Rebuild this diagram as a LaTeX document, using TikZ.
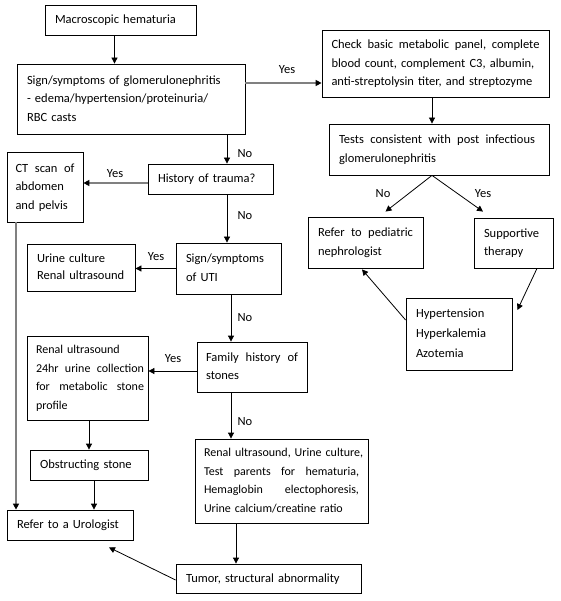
\documentclass[tikz,border=0pt]{standalone}
\usepackage{fontspec}
\setmainfont{Carlito}
\usetikzlibrary{arrows.meta,calc}
\newcommand\fs{\fontsize{12.5}{18.5}\selectfont}
\newcommand\fss{\fontsize{12}{18.5}\selectfont}
\newcommand\strline[2]{\hbox to #1{#2}}
\newcommand\lines[1]{\begin{tabular}{@{}l@{}}#1\end{tabular}}
\begin{document}
\begin{tikzpicture}[x=1pt,y=-1pt,
  box/.style={draw, line width=0.8pt, inner xsep=0pt, inner ysep=0pt, align=left, font=\fs},
  arr/.style={-{Triangle[length=6pt,width=6pt]}, line width=0.8pt},
  garr/.style={-{Triangle[length=6pt,width=6pt,color=black]}, draw=black!50, line width=1.8pt},
  lbl/.style={font=\fs, inner sep=0pt}]
\fill[white] (0,0) rectangle (560,601);
\useasboundingbox (0,0) rectangle (560,601);

\node[box, minimum width=151pt, minimum height=30pt, text width=131pt] (mac) at (120.5,20) {\lines{Macroscopic hematuria}};
\node[box, minimum width=228pt, minimum height=70pt, text width=208pt] (gn) at (131,99) {\lines{Sign/symptoms of glomerulonephritis\\- edema/hypertension/proteinuria/\\RBC casts}};
\node[box, minimum width=227pt, minimum height=67pt, text width=208pt] (chk) at (435.5,63.5) {\lines{\strline{208pt}{Check\hfill basic\hfill metabolic\hfill panel,\hfill complete}\\blood count, complement C3, albumin,\\anti-streptolysin titer, and streptozyme}};
\node[box, minimum width=220pt, minimum height=51pt, text width=200pt] (tst) at (439,149.5) {\lines{\strline{196pt}{Tests\hfill consistent\hfill with\hfill post\hfill infectious}\\glomerulonephritis}};
\node[box, minimum width=76pt, minimum height=70pt, text width=59pt] (ct) at (45,187) {\lines{\strline{59pt}{CT\hfill scan\hfill of}\\abdomen\\and pelvis}};
\node[box, minimum width=125pt, minimum height=30pt, text width=105pt] (tra) at (210.5,179) {\lines{History of trauma?}};
\node[box, minimum width=108pt, minimum height=47pt, text width=88pt] (uc) at (81,267.5) {\lines{Urine culture\\[-1.5pt]Renal ultrasound}};
\node[box, minimum width=105pt, minimum height=51pt, text width=85pt] (uti) at (228.5,268.5) {\lines{Sign/symptoms\\of UTI}};
\node[box, minimum width=110pt, minimum height=50pt, text width=92pt] (fam) at (252,367) {\lines{\strline{92pt}{Family\hfill history\hfill of}\\stones}};
\node[box, font=\fss, minimum width=121pt, minimum height=84pt, text width=103pt] (ru) at (87.5,378) {\lines{Renal ultrasound\\\strline{108pt}{24hr\hfill urine\hfill collection}\\\strline{108pt}{for\hfill metabolic\hfill stone}\\profile}};
\node[box, minimum width=118pt, minimum height=30pt, text width=98pt] (obs) at (89,465) {\lines{Obstructing stone}};
\node[box, minimum width=126pt, minimum height=30pt, text width=106pt] (uro) at (70,525) {\lines{Refer to a Urologist}};
\node[box, font=\fss, minimum width=173pt, minimum height=84pt, text width=155pt] (rus) at (281.5,481) {\lines{Renal ultrasound, Urine culture,\\\strline{155pt}{Test\hfill parents\hfill for\hfill hematuria,}\\\strline{155pt}{Hemaglobin\hfill electophoresis,}\\Urine calcium/creatine ratio}};
\node[box, minimum width=185pt, minimum height=29pt, text width=165pt] (tum) at (268.5,578.5) {\lines{Tumor, structural abnormality}};
\node[box, minimum width=115pt, minimum height=51pt, text width=95pt] (ped) at (365.5,242.5) {\lines{\strline{95pt}{Refer\hfill to\hfill pediatric}\\nephrologist}};
\node[box, minimum width=79pt, minimum height=50pt, text width=59pt] (sup) at (513.5,243) {\lines{Supportive\\therapy}};
\node[box, minimum width=106pt, minimum height=72pt, text width=86pt] (hyp) at (459,334) {\lines{Hypertension\\[1.5pt]Hyperkalemia\\[1.5pt]Azotemia}};

% connectors
\draw[arr] ([xshift=-6pt]mac.south) -- ([xshift=-6pt]mac.south |- gn.north);
\draw[garr] ([yshift=16pt]gn.east) -- ([yshift=16pt]gn.east -| chk.west);
\draw[arr] ([xshift=-3.5pt]chk.south) -- ([xshift=-3.5pt]chk.south |- tst.north);
\draw[arr] ([xshift=-7pt]tst.south) -- ([xshift=20pt,yshift=5pt]ped.north);
\draw[arr] ([xshift=-7pt]tst.south) -- ([xshift=-30.5pt,yshift=6pt]sup.north);
\draw[arr] ([yshift=14pt]hyp.west) -- ([xshift=-3.5pt,yshift=-1pt]ped.south);
\draw[arr] ([xshift=23.5pt]sup.south) -- ([xshift=5pt,yshift=24pt]hyp.east);
\draw[arr] ([xshift=96pt]gn.south) -- ([xshift=96pt]gn.south |- tra.north);
\draw[garr] ([yshift=-4pt]tra.west) -- ([yshift=-4pt]tra.west -| ct.east);
\draw[arr] ([xshift=16.5pt]tra.south) -- ([xshift=16.5pt]tra.south |- uti.north);
\draw[arr] (uti.west) -- (uti.west -| uc.east);
\draw[arr] ([xshift=2.5pt]uti.south) -- ([xshift=2.5pt]uti.south |- fam.north);
\draw[arr] ([yshift=-4pt]fam.west) -- ([yshift=-4pt]fam.west -| ru.east);
\draw[arr] ([xshift=-21pt]fam.south) -- ([xshift=-21pt]fam.south |- rus.north);
\draw[arr] ([xshift=1.5pt]ru.south) -- ([xshift=1.5pt]ru.south |- obs.north);
\draw[arr] ([xshift=5pt]obs.south) -- ([xshift=5pt]obs.south |- uro.north);
\draw[garr] ([xshift=-29pt]ct.south) -- ([xshift=-29pt]ct.south |- uro.north);
\draw[arr] ([xshift=-45.5pt]rus.south) -- ([xshift=-45.5pt]rus.south |- tum.north);
\draw[arr] ([yshift=-1.5pt]tum.west) -- ([xshift=39pt,yshift=-7pt]uro.south);

% labels
\node[lbl] (l1) at (287,70) {Yes};
\node[lbl] (l2) at (245,154) {No};
\node[lbl] (l3) at (115,174) {Yes};
\node[lbl] (l4) at (245,216) {No};
\node[lbl] (l5) at (156,257) {Yes};
\node[lbl] (l6) at (245,318) {No};
\node[lbl] (l7) at (173,359) {Yes};
\node[lbl] (l8) at (245,422) {No};
\node[lbl] (l9) at (383,194) {No};
\node[lbl] (l10) at (483,194) {Yes};
\end{tikzpicture}
\end{document}
